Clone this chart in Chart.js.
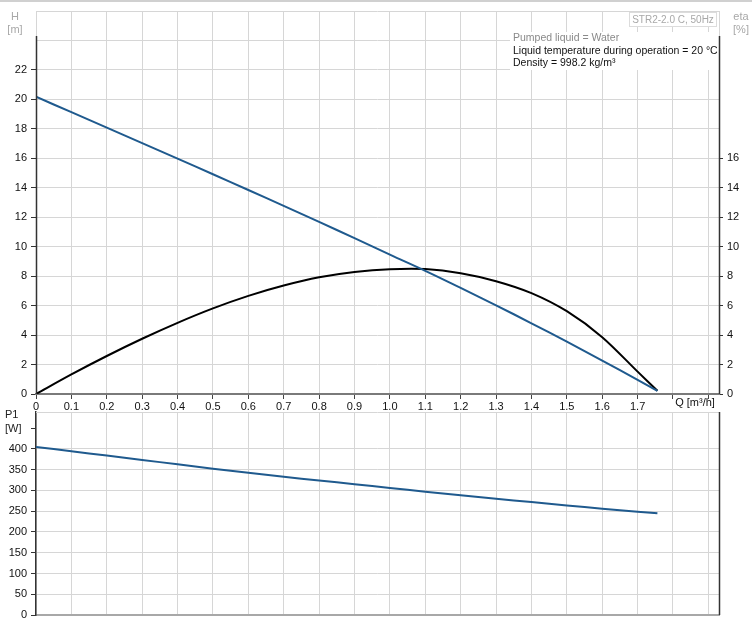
<!DOCTYPE html>
<html><head><meta charset="utf-8">
<script src="https://cdn.jsdelivr.net/npm/chart.js@4"></script>
<style>
html,body{margin:0;padding:0;background:#fff;}
#wrap{position:relative;width:752px;height:630px;overflow:hidden;background:#fff;}
#c1{position:absolute;left:0;top:0;}
#c2{position:absolute;left:0;top:400px;}
#topline{position:absolute;left:0;top:0;width:752px;height:2px;background:#d0d0d0;}
</style></head><body>
<div id="wrap">
<canvas id="c1" width="752" height="420"></canvas>
<canvas id="c2" width="752" height="230"></canvas>
<div id="topline"></div>
</div>
<script>
// ---- data ----
const flowQ    = [0, 0.1, 0.2, 0.3, 0.4, 0.5, 0.6, 0.7, 0.8, 0.9, 1.0, 1.1, 1.2, 1.3, 1.4, 1.5, 1.6, 1.7, 1.756];
const headH    = [20.18, 19.13, 18.08, 17.03, 15.98, 14.92, 13.85, 12.77, 11.68, 10.58, 9.46, 8.36, 7.2, 6.02, 4.8, 3.55, 2.27, 0.96, 0.22];
const effEta   = [0, 1.33, 2.58, 3.75, 4.83, 5.81, 6.66, 7.36, 7.92, 8.28, 8.47, 8.48, 8.2, 7.66, 6.85, 5.62, 3.86, 1.52, 0.22];
const powerP1  = [405, 394.5, 384, 373.5, 363, 352.5, 342.5, 333, 324, 315, 306, 297, 288.5, 280, 272, 264, 256, 249, 245];
const qTicks   = [0, 0.1, 0.2, 0.3, 0.4, 0.5, 0.6, 0.7, 0.8, 0.9, 1.0, 1.1, 1.2, 1.3, 1.4, 1.5, 1.6, 1.7, 1.8, 1.9];
const hTicks   = [0, 2, 4, 6, 8, 10, 12, 14, 16, 18, 20, 22, 24, 26];
const etaTicks = [0, 2, 4, 6, 8, 10, 12, 14, 16, 18, 20, 22, 24, 26];
const p1Ticks  = [0, 50, 100, 150, 200, 250, 300, 350, 400, 450];
const qLabelMax = 1.7, hLabelMax = 22, etaLabelMax = 16, p1LabelMax = 400;
const infoLines = ['Pumped liquid = Water', 'Liquid temperature during operation = 20 °C', 'Density = 998.2 kg/m³'];
const titleText = 'STR2-2.0 C, 50Hz';

const FAM = 'Arial, "Liberation Sans", sans-serif';
const FONT = {family: FAM, size: 11};
const GRID = '#d6d6d6';
const AXIS = '#333';

function pts(ys){ return flowQ.map((q,i)=>({x:q, y:ys[i]})); }
function fmtQ(v){ return v===0 ? '0' : v.toFixed(1); }

const topOverlay = {
  id:'topOverlay',
  afterDraw(chart){
    const ctx = chart.ctx, a = chart.chartArea, y = chart.scales.y;
    ctx.save();
    const yAx = y.getPixelForValue(24.3);
    ctx.strokeStyle = GRID; ctx.lineWidth = 1;
    ctx.beginPath(); ctx.moveTo(a.right+0.5, a.top); ctx.lineTo(a.right+0.5, yAx); ctx.stroke();
    // white info box
    ctx.fillStyle = '#fff';
    ctx.fillRect(510, 32, a.right - 510, 38);
    // dark axis lines
    ctx.strokeStyle = AXIS; ctx.lineWidth = 1.5;
    ctx.beginPath(); ctx.moveTo(a.left+0.5, yAx); ctx.lineTo(a.left+0.5, a.bottom); ctx.stroke();
    ctx.beginPath(); ctx.moveTo(a.right+0.5, yAx); ctx.lineTo(a.right+0.5, a.bottom); ctx.stroke();
    // texts
    ctx.textBaseline = 'middle';
    ctx.textAlign = 'center';
    ctx.font = '11px ' + FAM;
    ctx.fillStyle = '#a8a8a8';
    ctx.fillText('H', 15, 17); ctx.fillText('[m]', 15, 30);
    ctx.fillText('eta', 741, 17); ctx.fillText('[%]', 741, 30);
    // title box
    ctx.strokeStyle = '#dcdcdc'; ctx.lineWidth = 1;
    ctx.fillStyle = '#fff';
    ctx.fillRect(629.5, 12.5, 87, 14);
    ctx.strokeRect(629.5, 12.5, 87, 14);
    ctx.font = '10px ' + FAM;
    ctx.fillStyle = '#a8a8a8';
    ctx.fillText(titleText, 673, 20);
    ctx.font = '10.5px ' + FAM;
    ctx.textAlign = 'left';
    ctx.fillStyle = '#8a8a8a';
    ctx.fillText(infoLines[0], 513, 38);
    ctx.fillStyle = '#111';
    ctx.fillText(infoLines[1], 513, 51);
    ctx.fillText(infoLines[2], 513, 63);
    ctx.font = '11px ' + FAM;
    ctx.textAlign = 'center';
    ctx.fillText('Q [m³/h]', 695, 403);
    ctx.restore();
  }
};

const botOverlay = {
  id:'botOverlay',
  afterDraw(chart){
    const ctx = chart.ctx, a = chart.chartArea;
    ctx.save();
    ctx.strokeStyle = GRID; ctx.lineWidth = 1;
    ctx.beginPath(); ctx.moveTo(a.left, a.top+0.5); ctx.lineTo(a.right, a.top+0.5); ctx.stroke();
    ctx.strokeStyle = AXIS; ctx.lineWidth = 1.5;
    ctx.beginPath(); ctx.moveTo(a.right+0.5, a.top); ctx.lineTo(a.right+0.5, a.bottom); ctx.stroke();
    ctx.font = '11px ' + FAM;
    ctx.textBaseline = 'middle'; ctx.textAlign = 'left';
    ctx.fillStyle = '#222';
    ctx.fillText('P1', 5, 15); ctx.fillText('[W]', 5, 29);
    ctx.restore();
  }
};

new Chart(document.getElementById('c1'), {
  type:'line',
  data:{datasets:[
    {label:'H', data:pts(headH), borderColor:'#1f5a8e', borderWidth:2, pointRadius:0, yAxisID:'y', tension:0.4},
    {label:'eta', data:pts(effEta), borderColor:'#000', borderWidth:2, pointRadius:0, yAxisID:'y2', tension:0.3}
  ]},
  options:{
    responsive:false, animation:false, devicePixelRatio:1,
    layout:{padding:{top:11, left:0, right:0, bottom:0}},
    plugins:{legend:{display:false}, tooltip:{enabled:false}},
    scales:{
      x:{type:'linear', min:0, max:1.93,
        afterBuildTicks:s=>{ s.ticks = qTicks.map(v=>({value:v})); },
        afterFit:s=>{ s.height = 26; },
        ticks:{autoSkip:false, maxRotation:0, padding:1, color:'#111', font:FONT,
          callback:v=> v<=qLabelMax+1e-9 ? fmtQ(v) : ''},
        grid:{color:GRID, tickColor:'#444', tickLength:5, lineWidth:1},
        border:{color:'#7a7a7a', width:2}},
      y:{position:'left', min:0, max:26,
        afterBuildTicks:s=>{ s.ticks = hTicks.map(v=>({value:v})); },
        afterFit:s=>{ s.width = 36; },
        ticks:{padding:4, color:'#111', font:FONT, callback:v=> v<=hLabelMax ? String(v) : ''},
        grid:{color:GRID, tickLength:5, tickColor:c=> (c.tick && c.tick.value<=hLabelMax) ? AXIS : 'rgba(0,0,0,0)'},
        border:{display:false}},
      y2:{position:'right', min:0, max:26,
        afterBuildTicks:s=>{ s.ticks = etaTicks.map(v=>({value:v})); },
        afterFit:s=>{ s.width = 33; },
        ticks:{padding:4, color:'#111', font:FONT, callback:v=> v<=etaLabelMax ? String(v) : ''},
        grid:{drawOnChartArea:false, tickLength:4, tickColor:c=> (c.tick && c.tick.value<=etaLabelMax) ? AXIS : 'rgba(0,0,0,0)'},
        border:{display:false}}
    }
  },
  plugins:[topOverlay]
});

new Chart(document.getElementById('c2'), {
  type:'line',
  data:{datasets:[
    {label:'P1', data:pts(powerP1), borderColor:'#1f5a8e', borderWidth:2, pointRadius:0, tension:0.4}
  ]},
  options:{
    responsive:false, animation:false, devicePixelRatio:1,
    layout:{padding:{top:12, left:0, right:33, bottom:0}},
    plugins:{legend:{display:false}, tooltip:{enabled:false}},
    scales:{
      x:{type:'linear', min:0, max:1.93,
        afterBuildTicks:s=>{ s.ticks = qTicks.map(v=>({value:v})); },
        afterFit:s=>{ s.height = 15; },
        ticks:{display:false},
        grid:{color:GRID, drawTicks:false, lineWidth:1},
        border:{color:'#a8a8a8', width:2}},
      y:{position:'left', min:0, max:489,
        afterBuildTicks:s=>{ s.ticks = p1Ticks.map(v=>({value:v})); },
        afterFit:s=>{ s.width = 36; },
        ticks:{padding:4, color:'#111', font:FONT, callback:v=> v<=p1LabelMax ? String(v) : ''},
        grid:{color:c=> (c.tick && c.tick.value>p1LabelMax) ? 'rgba(0,0,0,0)' : GRID, tickLength:5, tickColor:AXIS},
        border:{color:AXIS, width:1.5}}
    }
  },
  plugins:[botOverlay]
});
</script>
</body></html>
